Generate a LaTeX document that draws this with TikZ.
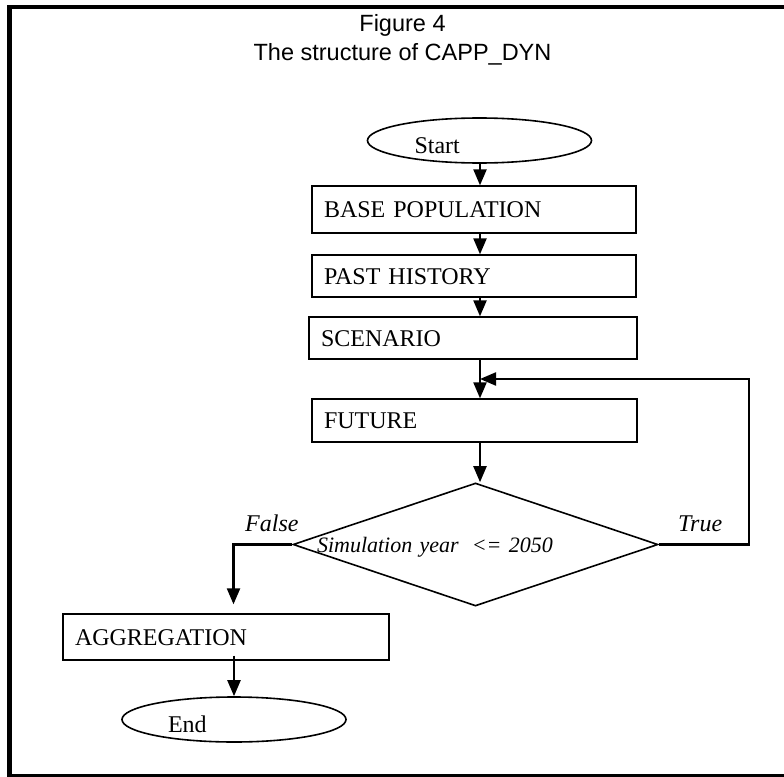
\documentclass[tikz,border=0pt]{standalone}
\usepackage{fontspec}
\setmainfont{Liberation Serif}
\newfontfamily\arialf{Liberation Sans}
\usetikzlibrary{arrows.meta,shapes.geometric,calc}
\begin{document}
\begin{tikzpicture}[x=1pt,y=-1pt,
  every node/.style={font=\fontsize{24}{28}\selectfont},
  box/.style={draw, line width=1.3pt, rectangle, inner xsep=12pt, inner ysep=0pt,
    align=left, text height=16pt, text depth=0pt},
  term/.style={draw, line width=1.6pt, ellipse, inner sep=0pt, minimum width=224pt,
    minimum height=45pt, text width=130pt, align=left, text height=25pt, text depth=0pt},
  decision/.style={draw, line width=1.6pt, diamond, aspect=2.97, inner sep=0pt, minimum width=365pt,
    minimum height=123pt, text width=317pt, align=left, text height=15pt, text depth=0pt,
    font=\fontsize{22}{26}\selectfont\itshape},
  arr/.style={line width=2.2pt, -{Triangle[length=16pt,width=13pt]}},
  titlef/.style={font=\arialf\fontsize{23.5}{28}\selectfont, inner sep=0pt},
  lab/.style={font=\fontsize{24}{28}\selectfont\itshape, inner sep=0pt}
]
\useasboundingbox (0,0) rectangle (784,776);
\fill[white] (0,0) rectangle (784,776);
\draw[line width=4.5pt] (9.5,7) rectangle (796,776.5);

\node[titlef, anchor=base] (t1) at (402.5,32) {Figure 4};
\node[titlef, anchor=base] (t2) at (402.5,60) {The structure of CAPP\_DYN};

\coordinate (ax) at (480,0);

\node[term] (start) at (479.5,140.5) {Start};
\node[box, text width=300pt, minimum height=47pt] (base) at (474,209.5) {BASE POPULATION};
\node[box, text width=300pt, minimum height=42pt] (past) at (474,276) {PAST HISTORY};
\node[box, text width=304pt, minimum height=42pt] (scen) at (473,338) {SCENARIO};
\node[box, text width=301pt, minimum height=43pt] (future) at (474.5,420.5) {FUTURE};
\node[decision] (dec) at (475.5,544.5) {Simulation year\hspace{13pt}<= 2050};
\node[box, text width=302pt, minimum height=46pt] (agg) at (226,637) {AGGREGATION};
\node[term, text width=132pt] (endn) at (234,719.5) {End};

\node[lab, anchor=base west] (flab) at (245,531) {False};
\node[lab, anchor=base west] (tlab) at (678,531) {True};

\coordinate (loop) at (480,379);
\coordinate (tr) at (749,379);
\coordinate (fx) at (233.5,0);

\draw[arr] (start.south -| ax) -- (ax |- base.north);
\draw[arr] (ax |- base.south) -- (ax |- past.north);
\draw[arr] (ax |- past.south) -- (ax |- scen.north);
\draw[arr] (ax |- scen.south) -- (ax |- future.north);
\draw[arr] (ax |- future.south) -- (ax |- dec.north);
\draw[arr] (dec.east) -| (tr) -- (loop);
\draw[arr, shorten >=9pt] (dec.west) -| (fx |- agg.north);
\draw[arr] ([yshift=5pt]agg.south -| endn.north) -- (endn.north);
\end{tikzpicture}
\end{document}
